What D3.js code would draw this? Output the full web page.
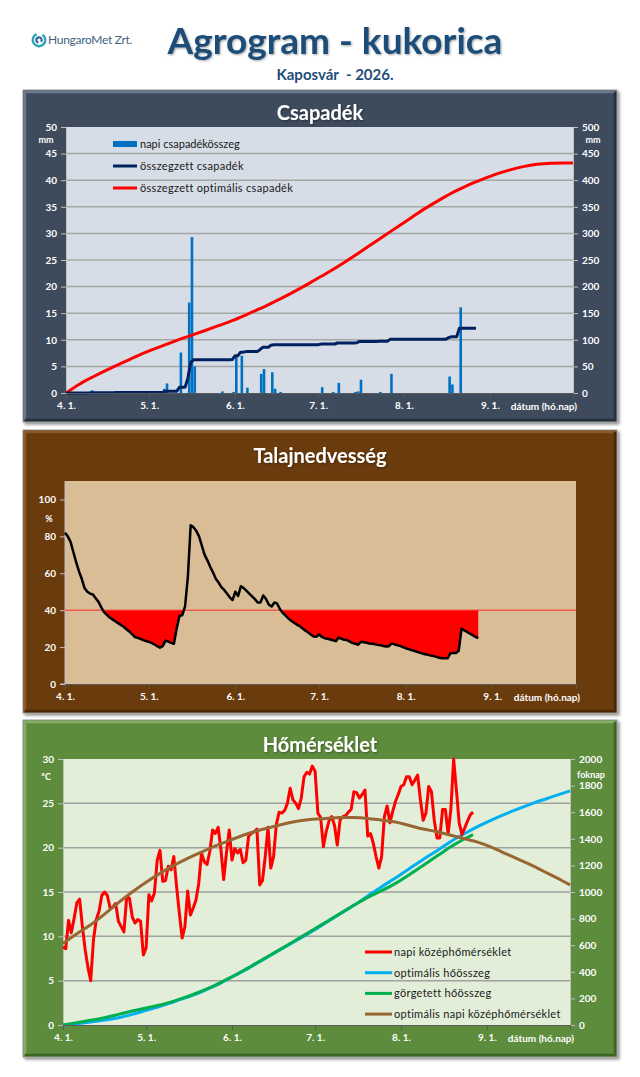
<!DOCTYPE html>
<html>
<head>
<meta charset="utf-8">
<script src="https://cdn.jsdelivr.net/npm/d3@7"></script>
<style>
  body { margin: 0; background: #ffffff; }
  text { font-family: Lato, "Open Sans", "DejaVu Sans", sans-serif; }
</style>
</head>
<body>
<svg id="chart" width="640" height="1077"></svg>
<script>
// ---------- data ----------
var seasonStart = "2026-04-01";
var seasonEnd = "2026-10-01";
var monthLabels = ["4. 1.", "5. 1.", "6. 1.", "7. 1.", "8. 1.", "9. 1.", ""];

// napi csapadékösszeg (mm), only days with rain
var rainDates = ["2026-04-10", "2026-04-19", "2026-05-06", "2026-05-07", "2026-05-12",
                 "2026-05-15", "2026-05-16", "2026-05-17", "2026-05-27", "2026-05-31",
                 "2026-06-01", "2026-06-03", "2026-06-05", "2026-06-10", "2026-06-11",
                 "2026-06-14", "2026-06-15", "2026-06-17", "2026-07-02", "2026-07-06",
                 "2026-07-08", "2026-07-14", "2026-07-15", "2026-07-16", "2026-07-23",
                 "2026-07-27", "2026-08-17", "2026-08-18", "2026-08-21"];
var rainMm = [0.5, 0.3, 0.8, 1.8, 7.6,
              17.0, 29.3, 5.0, 0.3, 0.2,
              7.0, 7.0, 1.0, 3.6, 4.5,
              3.9, 0.8, 0.2, 1.1, 0.2,
              1.9, 0.2, 0.3, 2.5, 0.2,
              3.6, 3.1, 1.6, 16.1];
var lastDataDate = "2026-08-27";

// talajnedvesség (%), daily from 04-01
var soilMoisture = [
  82, 80, 77, 71.5, 66, 61, 57, 52, 50, 49,
  48.5, 46.5, 44.5, 41.5, 39, 37.5, 36, 35, 34, 33,
  32, 31, 29.7, 28.5, 27, 25.5, 25, 24.5, 23.8, 23.3,
  22.8, 22.3, 21.5, 20.5, 19.7, 20.5, 23.5, 23, 22.3, 21.8,
  30, 37, 37.3, 42, 58, 86, 85, 83, 80, 75,
  70, 67, 63.5, 60.5, 57, 55, 52.5, 51, 49, 47,
  45.5, 50, 47.7, 53, 52, 50.5, 49, 47.5, 46, 44.2,
  44.2, 48, 46, 43, 42, 44.2, 43.5, 40.5, 38.5, 37,
  35.5, 34.3, 33.2, 32.2, 31.4, 30.2, 29, 28, 26.8, 25.8,
  25.6, 26.8, 25.5, 24.8, 24.5, 24.1, 23.7, 23.2, 25.2, 24.5,
  24, 23.8, 23, 22.2, 21.8, 21.3, 22.9, 22.6, 22.3, 22,
  21.8, 21.5, 21.2, 21, 20.6, 20.3, 20.5, 22, 21.5, 21,
  20.7, 20, 19.4, 18.9, 18.4, 18, 17.5, 17, 16.5, 16.1,
  15.8, 15.4, 15.1, 14.7, 14.2, 13.9, 13.9, 13.9, 16.6, 16.8,
  16.8, 18, 30, 29, 28.2, 27.3, 26.5, 25.5, 24.8
];
var soilLimit = 40;

// napi középhőmérséklet (°C), daily from 04-01
var meanTemp = [
  8.8, 8.6, 11.8, 10.4, 12.0, 13.8, 14.2, 11.1, 8.5, 6.5,
  5.0, 9.6, 11.9, 12.8, 14.6, 15.0, 14.6, 13.2, 13.3, 13.7,
  11.7, 11.1, 10.5, 14.5, 14.3, 12.2, 11.5, 11.9, 11.7, 7.9,
  8.7, 14.7, 14.0, 14.9, 18.6, 19.7, 16.2, 16.3, 17.9, 17.5,
  19.0, 15.6, 12.6, 9.8, 11.1, 15.1, 12.4, 13.2, 14.1, 16.0,
  19.4, 18.4, 18.1, 19.6, 22.0, 21.6, 22.3, 19.8, 16.4, 19.4,
  22.0, 18.6, 19.9, 19.4, 19.8, 18.3, 18.6, 21.3, 21.6, 21.8,
  22.1, 15.8, 16.3, 19.0, 22.3, 17.7, 19.0, 22.6, 24.0, 23.9,
  24.2, 25.0, 26.7, 25.4, 25.0, 24.4, 25.6, 28.0, 28.5, 28.3,
  29.2, 28.6, 23.9, 23.4, 20.1, 21.8, 23.0, 23.5, 22.5, 20.3,
  23.1, 23.5, 23.6, 24.0, 24.3, 26.3, 26.2, 25.6, 26.0, 26.5,
  21.3, 21.6, 20.5, 19.0, 17.7, 19.0, 23.5, 24.7, 22.8, 24.1,
  25.2, 26.0, 26.9, 27.1, 28.0, 28.0, 27.1, 27.6, 28.2, 25.4,
  23.1, 23.9, 26.9, 26.3, 23.1, 21.1, 21.1, 24.3, 24.3, 21.6,
  24.3, 30.0, 26.5, 22.8, 21.5, 22.2, 23.0, 23.7, 24.0
];

// smooth reference curves, one value every 5 days from 04-01
var optDays = [0, 5, 10, 15, 20, 25, 30, 35, 40, 45, 50, 55, 60, 65, 70, 75, 80, 85, 90,
               95, 100, 105, 110, 115, 120, 125, 130, 135, 140, 145, 150, 155, 160, 165,
               170, 175, 180, 183];
var optRain = [0, 17, 31, 44, 56, 68, 79, 89, 99, 108, 117, 126.5, 136, 147, 158.5, 171, 184, 198, 213,
               228, 244, 261, 278.5, 296, 313.5, 331, 348, 363.5, 378, 390.5, 401, 411, 419, 425.5,
               430, 432, 432.5, 432.5];
var optTemp = [9.2, 10.3, 11.3, 12.5, 13.8, 15.0, 16.1, 17.1, 18.0, 18.8, 19.5, 20.2, 20.8, 21.4,
               21.9, 22.3, 22.7, 23.0, 23.2, 23.3, 23.4, 23.4, 23.3, 23.1, 22.9, 22.5, 22.1,
               21.8, 21.4, 21.0, 20.6, 20.0, 19.3, 18.6, 17.9, 17.1, 16.3, 15.8];
var optHeatSum = [0, 10, 22, 37, 55, 80, 110, 140, 175, 210, 250, 295, 350, 405, 465, 525, 585,
                  645, 705, 770, 835, 900, 970, 1040, 1105, 1175, 1245, 1310, 1380, 1440, 1495,
                  1545, 1590, 1630, 1670, 1705, 1740, 1760];
var heatDays = [0, 5, 10, 15, 20, 25, 30, 35, 40, 45, 50, 55, 60, 65, 70, 75, 80, 85, 90, 95,
                100, 105, 110, 115, 120, 125, 130, 135, 140, 145, 148];
var rolledHeatSum = [0, 18, 35, 55, 80, 105, 128, 150, 180, 215, 255, 300, 352, 408, 468, 528, 588,
                     650, 712, 775, 838, 900, 960, 1010, 1065, 1130, 1200, 1270, 1340, 1400, 1432];

var rainTicksL = [0, 5, 10, 15, 20, 25, 30, 35, 40, 45, 50];
var rainTicksR = [0, 50, 100, 150, 200, 250, 300, 350, 400, 450, 500];
var soilTicks = [0, 20, 40, 60, 80, 100];
var tempTicks = [0, 5, 10, 15, 20, 25, 30];
var heatTicks = [0, 200, 400, 600, 800, 1000, 1200, 1400, 1600, 1800, 2000];

// ---------- helpers ----------
var parse = d3.timeParse("%Y-%m-%d");
var start = parse(seasonStart), end = parse(seasonEnd), lastDay = parse(lastDataDate);
var monthStarts = d3.timeMonth.range(start, d3.timeDay.offset(end, 1));
function dayDate(i) { return d3.timeDay.offset(start, i); }

var svg = d3.select("#chart");
var defs = svg.append("defs");
var shadow = defs.append("filter").attr("id", "shadow").attr("x", "-5%").attr("y", "-5%").attr("width", "110%").attr("height", "115%");
shadow.append("feDropShadow").attr("dx", 2).attr("dy", 2).attr("stdDeviation", 1.5).attr("flood-color", "#000").attr("flood-opacity", 0.45);
var tshadow = defs.append("filter").attr("id", "tshadow");
tshadow.append("feDropShadow").attr("dx", 1).attr("dy", 1).attr("stdDeviation", 0.8).attr("flood-color", "#000").attr("flood-opacity", 0.35);

function panel(top, bottom, base, light, dark, title, titleY) {
    var g = svg.append("g");
    g.append("rect").attr("x", 23).attr("y", top).attr("width", 594).attr("height", bottom - top)
        .attr("fill", base).attr("stroke", "#9a9a9a").attr("stroke-width", 1).attr("filter", "url(#shadow)");
    g.append("path").attr("d", "M25," + (bottom - 2) + "V" + (top + 2) + "H615")
        .attr("fill", "none").attr("stroke", light).attr("stroke-width", 2.5);
    g.append("path").attr("d", "M25," + (bottom - 2) + "H615V" + (top + 2))
        .attr("fill", "none").attr("stroke", dark).attr("stroke-width", 2.5);
    g.append("text").attr("x", 320).attr("y", titleY).attr("text-anchor", "middle")
        .attr("fill", "#ffffff").attr("font-weight", "bold").attr("font-size", 20)
        .attr("filter", "url(#tshadow)").text(title);
    return g;
}

function styleAxis(sel, lineColor) {
    sel.selectAll("path.domain").attr("stroke", lineColor).attr("stroke-width", 1);
    sel.selectAll(".tick line").attr("stroke", lineColor);
    sel.selectAll("text").attr("fill", "#ffffff").attr("font-weight", "bold").attr("font-size", 10)
        .attr("font-family", "Lato, 'Open Sans', sans-serif");
}

function xAxis(g, x, y0) {
    var ax = g.append("g").attr("transform", "translate(0," + y0 + ")")
        .call(d3.axisBottom(x).tickValues(monthStarts).tickSize(5).tickPadding(4)
            .tickFormat(function(d, i) { return monthLabels[i]; }));
    styleAxis(ax, "#595959");
    g.append("text").attr("x", x.range()[1] + 4).attr("y", y0 + 17).attr("text-anchor", "end")
        .attr("fill", "#ffffff").attr("font-weight", "bold").attr("font-size", 10).text("dátum (hó.nap)");
}

// ---------- header ----------
var logo = svg.append("g").attr("transform", "translate(39,40)");
var ring = d3.arc();
logo.append("path").attr("d", ring({innerRadius: 5, outerRadius: 7.5, startAngle: 0.6, endAngle: 5.9})).attr("fill", "#2aa6b8");
logo.append("path").attr("d", ring({innerRadius: 1.5, outerRadius: 3.8, startAngle: 3.4, endAngle: 8.6})).attr("fill", "#3b6aa0");
svg.append("text").attr("x", 48).attr("y", 44).attr("font-size", 12).attr("fill", "#3f5f80")
    .attr("font-family", "'Open Sans', sans-serif").attr("letter-spacing", -0.3).text("HungaroMet Zrt.");
svg.append("text").attr("x", 335).attr("y", 54).attr("text-anchor", "middle").attr("font-size", 37)
    .attr("font-weight", "bold").attr("fill", "#1f4e79").attr("filter", "url(#tshadow)").text("Agrogram - kukorica");
svg.append("text").attr("x", 335).attr("y", 80).attr("text-anchor", "middle").attr("font-size", 15)
    .attr("font-weight", "bold").attr("fill", "#1f4e79").attr("xml:space", "preserve").text("Kaposvár  - 2026.");

// ---------- Csapadék ----------
var p1 = panel(90, 422, "#3d4b5d", "#6a7889", "#26313e", "Csapadék", 120);
var x1 = d3.scaleTime().domain([start, end]).range([66, 573]);
var y1 = d3.scaleLinear().domain([0, 50]).range([393, 127]);
var y1r = d3.scaleLinear().domain([0, 500]).range([393, 127]);

p1.append("rect").attr("x", 66).attr("y", 127).attr("width", 507).attr("height", 266).attr("fill", "#d6dde6");
p1.append("g").selectAll("line").data(rainTicksL.slice(1, -1)).join("line")
    .attr("x1", 66).attr("x2", 573).attr("y1", function(d) { return y1(d); }).attr("y2", function(d) { return y1(d); })
    .attr("stroke", "#a6a6a6").attr("stroke-width", 1.5);

var ax1l = p1.append("g").attr("transform", "translate(66,0)")
    .call(d3.axisLeft(y1).tickValues(rainTicksL).tickSize(5).tickPadding(4));
styleAxis(ax1l, "#bfbfbf");
var ax1r = p1.append("g").attr("transform", "translate(573,0)")
    .call(d3.axisRight(y1r).tickValues(rainTicksR).tickSize(5).tickPadding(4).tickFormat(d3.format("d")));
styleAxis(ax1r, "#bfbfbf");
p1.append("text").attr("x", 46).attr("y", 143).attr("text-anchor", "middle").attr("fill", "#fff")
    .attr("font-weight", "bold").attr("font-size", 9).text("mm");
p1.append("text").attr("x", 593).attr("y", 143).attr("text-anchor", "middle").attr("fill", "#fff")
    .attr("font-weight", "bold").attr("font-size", 9).text("mm");

var rainData = rainDates.map(function(d, i) { return {date: parse(d), mm: rainMm[i]}; });
p1.append("g").selectAll("rect").data(rainData).join("rect")
    .attr("x", function(d) { return x1(d.date); }).attr("width", 2.6)
    .attr("y", function(d) { return y1(d.mm); })
    .attr("height", function(d) { return y1(0) - y1(d.mm); })
    .attr("fill", "#0070c0");

// cumulative precipitation from the daily totals
var nDays = d3.timeDay.count(start, lastDay) + 1;
var dailyRain = d3.range(nDays).map(function(i) {
    var dt = dayDate(i);
    return d3.sum(rainData.filter(function(r) { return +r.date === +dt; }), function(r) { return r.mm; });
});
var cumRain = Array.from(d3.cumsum(dailyRain));

var optRainLine = d3.line().curve(d3.curveMonotoneX)
    .x(function(d, i) { return x1(dayDate(optDays[i])); }).y(function(d) { return y1r(d); });
p1.append("path").datum(optRain).attr("d", optRainLine).attr("fill", "none")
    .attr("stroke", "#ff0000").attr("stroke-width", 3);

var cumLine = d3.line().x(function(d, i) { return x1(dayDate(i)); }).y(function(d) { return y1r(d); });
p1.append("path").datum(cumRain).attr("d", cumLine).attr("fill", "none")
    .attr("stroke", "#002060").attr("stroke-width", 3).attr("stroke-linejoin", "round");

var xa1 = p1.append("g");
xAxis(xa1, x1, 393);

var leg1 = p1.append("g").attr("font-size", 11).attr("fill", "#1a1a1a");
leg1.append("rect").attr("x", 113).attr("y", 141).attr("width", 24).attr("height", 6).attr("fill", "#0070c0");
leg1.append("line").attr("x1", 113).attr("x2", 137).attr("y1", 166).attr("y2", 166).attr("stroke", "#002060").attr("stroke-width", 3);
leg1.append("line").attr("x1", 113).attr("x2", 137).attr("y1", 188).attr("y2", 188).attr("stroke", "#ff0000").attr("stroke-width", 3);
leg1.append("text").attr("x", 140).attr("y", 148).text("napi csapadékösszeg");
leg1.append("text").attr("x", 140).attr("y", 170).attr("letter-spacing", 0.3).text("összegzett csapadék");
leg1.append("text").attr("x", 140).attr("y", 192).attr("letter-spacing", 0.3).text("összegzett optimális csapadék");

// ---------- Talajnedvesség ----------
var p2 = panel(430, 713, "#6b3a0b", "#8e5a2c", "#4a2806", "Talajnedvesség", 463);
var x2 = d3.scaleTime().domain([start, end]).range([65, 576]);
var y2 = d3.scaleLinear().domain([0, 110]).range([684, 481]);

p2.append("rect").attr("x", 65).attr("y", 481).attr("width", 511).attr("height", 203).attr("fill", "#d8bd96");
var ax2l = p2.append("g").attr("transform", "translate(65,0)")
    .call(d3.axisLeft(y2).tickValues(soilTicks).tickSize(5).tickPadding(4));
styleAxis(ax2l, "#bfbfbf");
ax2l.select("path.domain").attr("d", "M-5," + y2(0) + "H0V" + y2(110));
p2.append("text").attr("x", 49).attr("y", 522).attr("text-anchor", "middle").attr("fill", "#fff")
    .attr("font-weight", "bold").attr("font-size", 9).text("%");

var deficit = d3.area()
    .x(function(d, i) { return x2(dayDate(i)); })
    .y0(y2(soilLimit))
    .y1(function(d) { return y2(Math.min(d, soilLimit)); });
p2.append("path").datum(soilMoisture).attr("d", deficit).attr("fill", "#ff0000");
p2.append("line").attr("x1", 65).attr("x2", 576).attr("y1", y2(soilLimit)).attr("y2", y2(soilLimit))
    .attr("stroke", "#ff2a2a").attr("stroke-width", 1);
var soilLine = d3.line().x(function(d, i) { return x2(dayDate(i)); }).y(function(d) { return y2(d); });
p2.append("path").datum(soilMoisture).attr("d", soilLine).attr("fill", "none")
    .attr("stroke", "#000000").attr("stroke-width", 2.5).attr("stroke-linejoin", "round");

var xa2 = p2.append("g");
xAxis(xa2, x2, 684);

// ---------- Hőmérséklet ----------
var p3 = panel(720, 1057, "#5d8c3c", "#86ad66", "#3e6425", "Hőmérséklet", 752);
var x3 = d3.scaleTime().domain([start, end]).range([63, 570]);
var y3 = d3.scaleLinear().domain([0, 30]).range([1025, 759]);
var y3r = d3.scaleLinear().domain([0, 2000]).range([1025, 759]);

p3.append("rect").attr("x", 63).attr("y", 759).attr("width", 507).attr("height", 266).attr("fill", "#e2eed8");
p3.append("g").selectAll("line").data(tempTicks.slice(1, -1)).join("line")
    .attr("x1", 63).attr("x2", 570).attr("y1", function(d) { return y3(d); }).attr("y2", function(d) { return y3(d); })
    .attr("stroke", "#a0a0a0").attr("stroke-width", 1.5);

var ax3l = p3.append("g").attr("transform", "translate(63,0)")
    .call(d3.axisLeft(y3).tickValues(tempTicks).tickSize(5).tickPadding(4));
styleAxis(ax3l, "#bfbfbf");
var ax3r = p3.append("g").attr("transform", "translate(570,0)")
    .call(d3.axisRight(y3r).tickValues(heatTicks).tickSize(5).tickPadding(4).tickFormat(d3.format("d")));
styleAxis(ax3r, "#bfbfbf");
p3.append("text").attr("x", 46).attr("y", 780).attr("text-anchor", "middle").attr("fill", "#fff")
    .attr("font-weight", "bold").attr("font-size", 9).text("°C");
p3.append("text").attr("x", 591).attr("y", 778).attr("text-anchor", "middle").attr("fill", "#fff")
    .attr("font-weight", "bold").attr("font-size", 9).text("foknap");

var optHeatLine = d3.line().curve(d3.curveMonotoneX)
    .x(function(d, i) { return x3(dayDate(optDays[i])); }).y(function(d) { return y3r(d); });
var rolledLine = d3.line().curve(d3.curveMonotoneX)
    .x(function(d, i) { return x3(dayDate(heatDays[i])); }).y(function(d) { return y3r(d); });
var optTempLine = d3.line().curve(d3.curveMonotoneX)
    .x(function(d, i) { return x3(dayDate(optDays[i])); }).y(function(d) { return y3(d); });
var tempLine = d3.line().x(function(d, i) { return x3(dayDate(i)); }).y(function(d) { return y3(d); });

p3.append("path").datum(optHeatSum).attr("d", optHeatLine).attr("fill", "none").attr("stroke", "#00b0f0").attr("stroke-width", 3);
p3.append("path").datum(rolledHeatSum).attr("d", rolledLine).attr("fill", "none").attr("stroke", "#00b050").attr("stroke-width", 3);
p3.append("path").datum(meanTemp).attr("d", tempLine).attr("fill", "none").attr("stroke", "#ff0000")
    .attr("stroke-width", 3).attr("stroke-linejoin", "round");
p3.append("path").datum(optTemp).attr("d", optTempLine).attr("fill", "none").attr("stroke", "#996633").attr("stroke-width", 3);

var xa3 = p3.append("g");
xAxis(xa3, x3, 1025);

var legItems = [["napi középhőmérséklet", "#ff0000"], ["optimális hőösszeg", "#00b0f0"],
                ["görgetett hőösszeg", "#00b050"], ["optimális napi középhőmérséklet", "#996633"]];
var leg3 = p3.append("g").selectAll("g").data(legItems).join("g")
    .attr("transform", function(d, i) { return "translate(365," + (952 + i * 20.7) + ")"; });
leg3.append("line").attr("x1", 0).attr("x2", 27).attr("stroke", function(d) { return d[1]; }).attr("stroke-width", 3);
leg3.append("text").attr("x", 29).attr("y", 4).attr("font-size", 11).attr("letter-spacing", 0.3)
    .attr("fill", "#1a1a1a").text(function(d) { return d[0]; });
</script>
</body>
</html>
